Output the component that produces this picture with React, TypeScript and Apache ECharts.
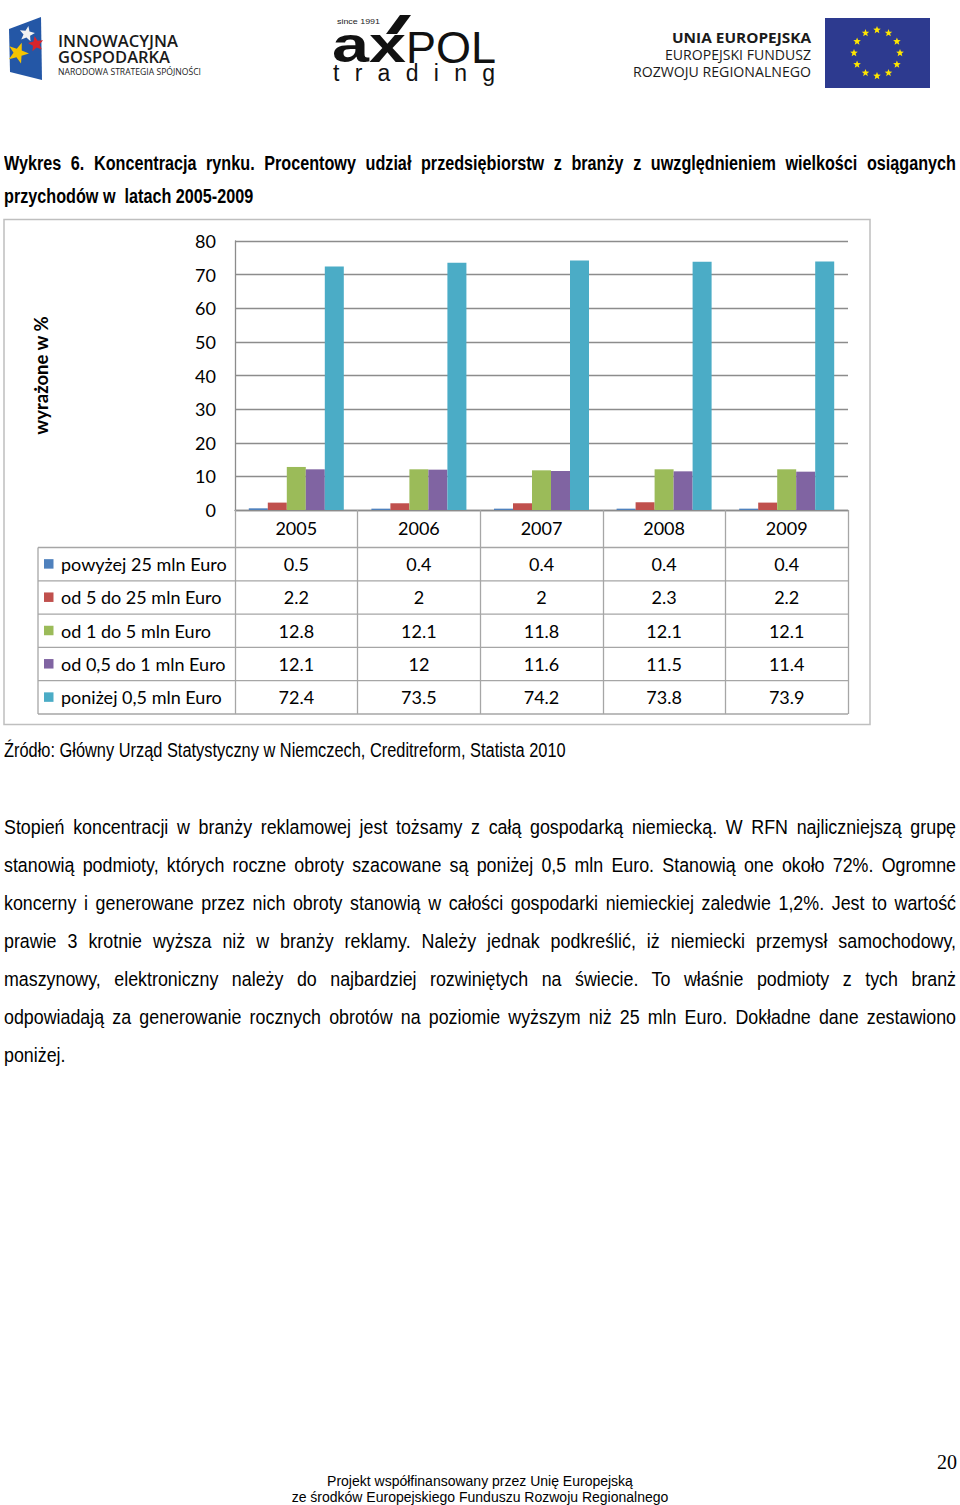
import React, { useEffect, useRef } from "react";
import * as echarts from "echarts";

const years = ["2005", "2006", "2007", "2008", "2009"];
const seriesNames = [
  "powyżej 25 mln Euro",
  "od 5 do 25 mln Euro",
  "od 1 do 5 mln Euro",
  "od 0,5 do 1 mln Euro",
  "poniżej 0,5 mln Euro",
];
const above25 = [0.5, 0.4, 0.4, 0.4, 0.4];
const from5to25 = [2.2, 2, 2, 2.3, 2.2];
const from1to5 = [12.8, 12.1, 11.8, 12.1, 12.1];
const from05to1 = [12.1, 12, 11.6, 11.5, 11.4];
const below05 = [72.4, 73.5, 74.2, 73.8, 73.9];
const seriesValues = [above25, from5to25, from1to5, from05to1, below05];
const seriesColors = ["#4F81BD", "#C0504D", "#9BBB59", "#8064A2", "#4BACC6"];
const yMin = 0;
const yMax = 80;
const yStep = 10;

const titleLines = [
  "Wykres 6. Koncentracja rynku. Procentowy udział przedsiębiorstw z branży z uwzględnieniem wielkości osiąganych",
  "przychodów w  latach 2005-2009",
];
const sourceText = "Źródło: Główny Urząd Statystyczny w Niemczech, Creditreform, Statista 2010";
const paragraphLines = [
  "Stopień koncentracji w branży reklamowej jest tożsamy z całą gospodarką niemiecką. W RFN najliczniejszą grupę",
  "stanowią podmioty, których roczne obroty szacowane są poniżej 0,5 mln Euro. Stanowią one około 72%. Ogromne",
  "koncerny i generowane przez nich obroty stanowią w całości gospodarki niemieckiej zaledwie 1,2%. Jest to wartość",
  "prawie 3 krotnie wyższa niż w branży reklamy. Należy jednak podkreślić, iż niemiecki przemysł samochodowy,",
  "maszynowy, elektroniczny należy do najbardziej rozwiniętych na świecie. To właśnie podmioty z tych branż",
  "odpowiadają za generowanie rocznych obrotów na poziomie wyższym niż 25 mln Euro. Dokładne dane zestawiono",
  "poniżej.",
];
const footerLines = [
  "Projekt współfinansowany przez Unię Europejską",
  "ze środków Europejskiego Funduszu Rozwoju Regionalnego",
];
const pageNumber = "20";

const SANS = '"Liberation Sans", Arial, sans-serif';
const CHART_FONT = 'Lato, "Open Sans", sans-serif';
const NARROW_SCALE = 0.83;

// layout
const GRID_LEFT = 235;
const GRID_TOP = 241;
const GRID_W = 613;
const GRID_H = 269;
const AXIS_Y = GRID_TOP + GRID_H;
const HEADER_H = 37.5;
const ROW_H = 33.3;
const LEGEND_LEFT = 38;

let measureCtx: CanvasRenderingContext2D | null = null;
function measure(text: string, font: string) {
  if (!measureCtx) {
    const c = document.createElement("canvas");
    measureCtx = c.getContext("2d");
  }
  if (!measureCtx) return text.length * 10;
  measureCtx.font = font;
  return measureCtx.measureText(text).width;
}

function NarrowLine(props: {
  text: string;
  width: number;
  justify?: boolean;
  fontSize: number;
  bold?: boolean;
  scale?: number;
}) {
  const { text, width, justify, fontSize, bold } = props;
  let s = props.scale ?? NARROW_SCALE;
  const natural = measure(text, `${bold ? "bold " : ""}${fontSize}px ${SANS}`);
  if (natural * s > width) s = width / natural;
  return (
    <div
      style={{
        width: justify ? width / s : natural + 4,
        transform: `scaleX(${s})`,
        transformOrigin: "0 0",
        whiteSpace: "pre",
        textAlign: justify ? "justify" : "left",
        textAlignLast: justify ? "justify" : "auto",
        fontFamily: SANS,
        fontSize,
        fontWeight: bold ? 700 : 400,
      }}
    >
      {text}
    </div>
  );
}

function starPoints(cx: number, cy: number, r: number, ri: number, rot = -90) {
  const pts: string[] = [];
  for (let i = 0; i < 10; i++) {
    const rad = ((rot + i * 36) * Math.PI) / 180;
    const rr = i % 2 === 0 ? r : ri;
    pts.push(`${(cx + rr * Math.cos(rad)).toFixed(2)},${(cy + rr * Math.sin(rad)).toFixed(2)}`);
  }
  return pts.join(" ");
}

function Header() {
  const euStars = [] as React.ReactNode[];
  for (let i = 0; i < 12; i++) {
    const a = (i * 30 * Math.PI) / 180;
    euStars.push(
      <polygon
        key={i}
        points={starPoints(877 + 23 * Math.sin(a), 53 - 23 * Math.cos(a), 4, 1.7)}
        fill="#FFE600"
      />
    );
  }
  return (
    <svg width={960} height={100} style={{ position: "absolute", left: 0, top: 0 }}>
      {/* Innowacyjna Gospodarka */}
      <polygon points="9,29 41,17 42,80 10,72" fill="#2457A6" />
      <polygon points={starPoints(27, 34, 8, 3.5, -80)} fill="#F2F2F2" />
      <polygon points={starPoints(36, 44, 8, 3.5, -100)} fill="#D8242B" />
      <polygon points={starPoints(18, 53, 11, 4.5, -70)} fill="#F5C400" />
      <text x={58} y={47} fontFamily='"Open Sans", sans-serif' fontWeight={600} fontSize={17} textLength={120} lengthAdjust="spacingAndGlyphs" fill="#1a1a1a">INNOWACYJNA</text>
      <text x={58} y={63} fontFamily='"Open Sans", sans-serif' fontWeight={600} fontSize={17} textLength={112} lengthAdjust="spacingAndGlyphs" fill="#1a1a1a">GOSPODARKA</text>
      <text x={58} y={75} fontFamily='"Open Sans", sans-serif' fontSize={8.5} textLength={143} lengthAdjust="spacingAndGlyphs" fill="#1a1a1a">NARODOWA STRATEGIA SPÓJNOŚCI</text>
      {/* axPOL */}
      <text x={337} y={24} fontFamily={SANS} fontSize={7.5} textLength={43} lengthAdjust="spacingAndGlyphs" fill="#222">since 1991</text>
      <text x={332} y={62} fontFamily={SANS} fontWeight={700} fontSize={50} textLength={74} lengthAdjust="spacingAndGlyphs" fill="#111">ax</text>
      <polygon points="386,34 400,15 411,15 397,34" fill="#111" />
      <text x={406} y={63} fontFamily={SANS} fontSize={44} textLength={90} lengthAdjust="spacingAndGlyphs" fill="#111">POL</text>
      <text x={333} y={81} fontFamily={SANS} fontSize={23} textLength={162} lengthAdjust="spacing" fill="#111">trading</text>
      {/* UE */}
      <text x={811} y={43} textAnchor="end" fontFamily='"Open Sans", sans-serif' fontWeight={700} fontSize={14.5} textLength={139} lengthAdjust="spacingAndGlyphs" fill="#1a1a1a">UNIA EUROPEJSKA</text>
      <text x={811} y={60} textAnchor="end" fontFamily='"Open Sans", sans-serif' fontSize={14.5} textLength={146} lengthAdjust="spacingAndGlyphs" fill="#1a1a1a">EUROPEJSKI FUNDUSZ</text>
      <text x={811} y={77} textAnchor="end" fontFamily='"Open Sans", sans-serif' fontSize={14.5} textLength={178} lengthAdjust="spacingAndGlyphs" fill="#1a1a1a">ROZWOJU REGIONALNEGO</text>
      <rect x={825} y={18} width={105} height={70} fill="#2D3A8F" />
      {euStars}
    </svg>
  );
}

function Chart() {
  const ref = useRef<HTMLDivElement>(null);
  useEffect(() => {
    if (!ref.current) return;
    const chart = echarts.init(ref.current, undefined, { renderer: "svg" });
    const colW = GRID_W / years.length;
    const gridColor = "#8C8C8C";
    const tableColor = "#A6A6A6";
    const graphics: any[] = [];
    graphics.push({
      type: "rect",
      shape: { x: 4, y: 219.5, width: 866, height: 505 },
      style: { fill: "none", stroke: "#BFBFBF", lineWidth: 1.5 },
      silent: true,
    });
    for (let r = 0; r <= seriesNames.length; r++) {
      const y = AXIS_Y + HEADER_H + r * ROW_H;
      graphics.push({
        type: "line",
        shape: { x1: LEGEND_LEFT, y1: y, x2: GRID_LEFT + GRID_W, y2: y },
        style: { stroke: tableColor, lineWidth: 1.3 },
        silent: true,
      });
    }
    graphics.push({
      type: "line",
      shape: {
        x1: LEGEND_LEFT,
        y1: AXIS_Y + HEADER_H,
        x2: LEGEND_LEFT,
        y2: AXIS_Y + HEADER_H + seriesNames.length * ROW_H,
      },
      style: { stroke: tableColor, lineWidth: 1.3 },
      silent: true,
    });
    seriesNames.forEach((name, r) => {
      const cy = AXIS_Y + HEADER_H + (r + 0.5) * ROW_H;
      graphics.push({
        type: "rect",
        shape: { x: 44, y: cy - 5, width: 9.5, height: 9.5 },
        style: { fill: seriesColors[r] },
        silent: true,
      });
      graphics.push({
        type: "text",
        x: 61,
        y: cy,
        style: {
          text: name,
          fill: "#000",
          font: `18px ${CHART_FONT}`,
          align: "left",
          verticalAlign: "middle",
          textAlign: "left",
          textVerticalAlign: "middle",
        },
        silent: true,
      });
      seriesValues[r].forEach((v, c) => {
        graphics.push({
          type: "text",
          x: GRID_LEFT + (c + 0.5) * colW,
          y: cy,
          style: {
            text: String(v),
            fill: "#000",
            font: `18px ${CHART_FONT}`,
            align: "center",
            verticalAlign: "middle",
            textAlign: "center",
            textVerticalAlign: "middle",
          },
          silent: true,
        });
      });
    });

    chart.setOption({
      animation: false,
      backgroundColor: "transparent",
      grid: { left: GRID_LEFT, top: GRID_TOP, width: GRID_W, height: GRID_H, containLabel: false },
      xAxis: {
        type: "category",
        data: years,
        boundaryGap: true,
        axisLine: { show: true, lineStyle: { color: gridColor, width: 1.3 } },
        axisTick: {
          show: true,
          interval: 0,
          alignWithLabel: false,
          length: HEADER_H + seriesNames.length * ROW_H,
          lineStyle: { color: tableColor, width: 1.3 },
        },
        axisLabel: { margin: 9, fontSize: 18, color: "#000", fontFamily: CHART_FONT, interval: 0 },
        splitLine: { show: false },
      },
      yAxis: {
        type: "value",
        min: yMin,
        max: yMax,
        interval: yStep,
        name: "wyrażone w %",
        nameLocation: "middle",
        nameRotate: 90,
        nameGap: 185,
        nameTextStyle: { fontSize: 18.5, fontWeight: "bold", color: "#000", fontFamily: CHART_FONT },
        axisLine: { show: true, lineStyle: { color: gridColor, width: 1.3 } },
        axisTick: { show: false },
        axisLabel: { margin: 19, fontSize: 18, color: "#000", fontFamily: CHART_FONT },
        splitLine: { show: true, lineStyle: { color: gridColor, width: 1.3 } },
      },
      series: seriesNames.map((name, i) => ({
        name,
        type: "bar",
        data: seriesValues[i],
        barGap: "0%",
        barCategoryGap: "22.5%",
        itemStyle: { color: seriesColors[i] },
        silent: true,
      })),
      graphic: graphics,
    });
    return () => chart.dispose();
  }, []);
  return <div ref={ref} style={{ position: "absolute", left: 0, top: 0, width: 960, height: 740 }} />;
}

export default function App() {
  useEffect(() => {
    document.body.style.margin = "0";
  }, []);
  return (
    <div style={{ position: "relative", width: 960, height: 1505, background: "#fff", overflow: "hidden", color: "#000" }}>
      <Header />
      <Chart />
      <div style={{ position: "absolute", left: 4, top: 150, lineHeight: "27px" }}>
        <NarrowLine text={titleLines[0]} width={952} justify fontSize={19.5} bold />
      </div>
      <div style={{ position: "absolute", left: 4, top: 183, lineHeight: "27px" }}>
        <NarrowLine text={titleLines[1]} width={952} fontSize={19.5} bold />
      </div>
      <div style={{ position: "absolute", left: 4, top: 737, lineHeight: "26px" }}>
        <NarrowLine text={sourceText} width={952} fontSize={19.5} scale={0.84} />
      </div>
      <div style={{ position: "absolute", left: 4, top: 808, lineHeight: "38px" }}>
        {paragraphLines.map((l, i) => (
          <NarrowLine key={i} text={l} width={952} fontSize={20.5} scale={0.87} justify={i < paragraphLines.length - 1} />
        ))}
      </div>
      <div
        style={{
          position: "absolute",
          left: 937,
          top: 1450,
          fontFamily: '"Liberation Serif", "Times New Roman", serif',
          fontSize: 20,
          lineHeight: "24px",
        }}
      >
        {pageNumber}
      </div>
      <div
        style={{
          position: "absolute",
          left: 0,
          top: 1473,
          width: 960,
          textAlign: "center",
          fontFamily: SANS,
          fontSize: 14,
          lineHeight: "16px",
        }}
      >
        {footerLines.map((l, i) => (
          <div key={i}>{l}</div>
        ))}
      </div>
    </div>
  );
}
